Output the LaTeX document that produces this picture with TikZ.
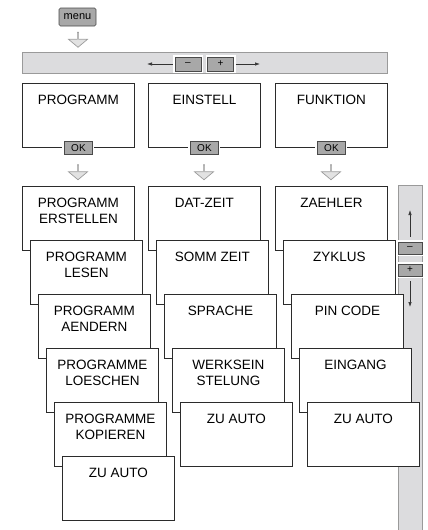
\documentclass[tikz,border=0pt]{standalone}
\usepackage{fontspec}
\setmainfont{Liberation Sans}
\usetikzlibrary{shapes.arrows,arrows.meta}

\definecolor{barfill}{HTML}{DCDCDE}
\definecolor{barline}{HTML}{9A9A9A}
\definecolor{btnfill}{HTML}{A8A8A8}
\definecolor{btnline}{HTML}{4A4A4A}
\definecolor{arrfill}{HTML}{E2E2E2}
\definecolor{arrline}{HTML}{9C9C9C}
\definecolor{boxline}{HTML}{2B2B2B}

\tikzset{
  boxtext/.style={anchor=north, yshift=-12pt, inner sep=0pt, align=center, font=\fontsize{13.5}{16}\selectfont},
  menubox/.style={rectangle, draw=boxline, line width=0.9pt, fill=white, minimum width=112pt, minimum height=64pt, inner sep=0pt, anchor=north west, label={[boxtext]north:#1}},
  btn/.style={rectangle, draw=btnline, fill=btnfill, line width=0.7pt, inner sep=0pt, preaction={draw=white, line width=4pt}, font=\fontsize{10}{12}\selectfont},
  hollow/.style={single arrow, shape border rotate=270, draw=arrline, fill=arrfill, line width=0.7pt, minimum width=19pt, minimum height=15pt, single arrow head extend=5pt, single arrow tip angle=100, inner sep=0pt},
  bar/.style={rectangle, draw=barline, fill=barfill, line width=0.8pt, inner sep=0pt},
  thinarrow/.style={-{Latex[length=5pt,width=3.5pt]}, line width=0.7pt, black!80}
}

\begin{document}
\begin{tikzpicture}[x=1pt, y=-1pt]
    \useasboundingbox (0,0) rectangle (428,530);

    % scroll bar on the right
    \node[bar, minimum width=24pt, minimum height=347pt] (side) at (410,358.5) {};
    \node[btn, minimum width=24pt, minimum height=12pt] (sminus) at (410,248) {–};
    \node[btn, minimum width=24pt, minimum height=12pt] (splus) at (410,270) {+};
    \coordinate (supend) at (410,210);
    \coordinate (sdownend) at (410,307);
    \draw[thinarrow, shorten <=5pt] (sminus.north) -- (supend);
    \draw[thinarrow, shorten <=5pt] (splus.south) -- (sdownend);

    % menu key and top bar
    \node[btn, rounded corners=1.5pt, minimum width=37pt, minimum height=18pt, font=\fontsize{11}{13}\selectfont] (menu) at (77.5,17) {menu};
    \node[hollow] (harrmenu) at (78,39.5) {};

    \node[bar, minimum width=365pt, minimum height=21pt] (topbar) at (204.5,62.5) {};
    \node[btn, minimum width=26pt, minimum height=14pt] (minus) at (188,64) {–};
    \node[btn, minimum width=26pt, minimum height=14pt] (plus) at (220.5,64) {+};
    \coordinate (lend) at (147,64);
    \coordinate (rend) at (260,64);
    \draw[thinarrow, shorten <=2pt] (minus.west) -- (lend);
    \draw[thinarrow, shorten <=2pt] (plus.east) -- (rend);

    % main menus
    \node[menubox=PROGRAMM] (prog) at (22,83) {};
    \node[menubox=EINSTELL] (einst) at (148,83) {};
    \node[menubox=FUNKTION] (funk) at (275,83) {};

    \node[btn, minimum width=28pt, minimum height=13pt] (okprog) at (prog.south) {OK};
    \node[btn, minimum width=28pt, minimum height=13pt] (okeinst) at (einst.south) {OK};
    \node[btn, minimum width=28pt, minimum height=13pt] (okfunk) at (funk.south) {OK};

    \node[hollow] (harrprog) at (78,172) {};
    \node[hollow] (harreinst) at (204,172) {};
    \node[hollow] (harrfunk) at (331,172) {};

    % PROGRAMM sub menus
    \node[menubox={PROGRAMM\\ERSTELLEN}] (p1) at (22,186) {};
    \node[menubox={PROGRAMM\\LESEN}] (p2) at (30,240) {};
    \node[menubox={PROGRAMM\\AENDERN}] (p3) at (38,294) {};
    \node[menubox={PROGRAMME\\LOESCHEN}] (p4) at (46,348) {};
    \node[menubox={PROGRAMME\\KOPIEREN}] (p5) at (54,402) {};
    \node[menubox={ZU AUTO}] (p6) at (62,456) {};

    % EINSTELL sub menus
    \node[menubox=DAT-ZEIT] (e1) at (148,186) {};
    \node[menubox={SOMM ZEIT}] (e2) at (156,240) {};
    \node[menubox=SPRACHE] (e3) at (164,294) {};
    \node[menubox={WERKSEIN\\STELUNG}] (e4) at (172,348) {};
    \node[menubox={ZU AUTO}] (e5) at (180,402) {};

    % FUNKTION sub menus
    \node[menubox=ZAEHLER] (f1) at (275,186) {};
    \node[menubox=ZYKLUS] (f2) at (283,240) {};
    \node[menubox={PIN CODE}] (f3) at (291,294) {};
    \node[menubox=EINGANG] (f4) at (299,348) {};
    \node[menubox={ZU AUTO}] (f5) at (307,402) {};
\end{tikzpicture}
\end{document}
